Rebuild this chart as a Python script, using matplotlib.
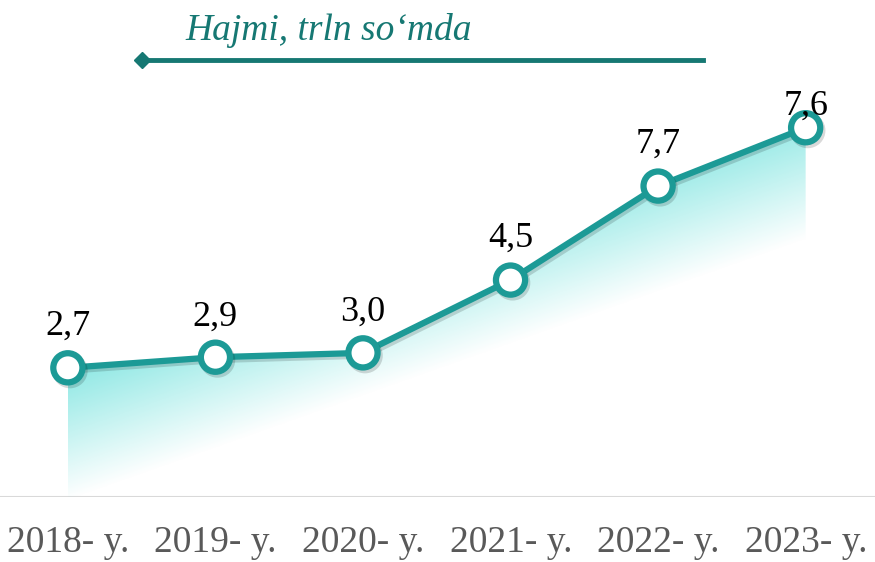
import numpy as np
import matplotlib
matplotlib.use("Agg")
import matplotlib.pyplot as plt
import matplotlib.patheffects as pe
from matplotlib.patches import Polygon
from matplotlib.lines import Line2D

years = ["2018- y.", "2019- y.", "2020- y.", "2021- y.", "2022- y.", "2023- y."]
# heights as drawn in the picture, labels as printed
heights = [2.68, 2.90, 2.99, 4.50, 6.45, 7.66]
labels = ["2,7", "2,9", "3,0", "4,5", "7,7", "7,6"]
title = "Hajmi, trln so\u2018mda"

teal = "#1c9a96"
dark_teal = "#167873"
fill_col = np.array([0.45, 0.89, 0.87])

fig = plt.figure(figsize=(8.75, 5.62), dpi=100)
ax = fig.add_axes([0, 65 / 562, 1, 497 / 562])
ax.set_xlim(-0.46, 5.47)
ax.set_ylim(0, 10.31)
ax.axis("off")

x = np.arange(len(years))
y = np.array(heights)

# gradient fill under the line, fading to the lower right
gx = np.linspace(0, 5, 300)
gy = np.linspace(0, 8, 300)
GX, GY = np.meshgrid(gx, gy)
px = 68 + 147.6 * GX
py = 497 - 48.2 * GY
s = 260 * px + 736 * py
alpha = np.clip((386200 - s) / (386200 - 270000), 0, 1) * 0.97
img = np.zeros(GX.shape + (4,))
img[..., :3] = fill_col
img[..., 3] = alpha
poly = Polygon(np.column_stack([np.r_[x, x[::-1][:1], x[:1]], np.r_[y, 0, 0]]),
               closed=True, facecolor="none", edgecolor="none")
ax.add_patch(poly)
im = ax.imshow(img, extent=[0, 5, 0, 8], origin="lower", aspect="auto", zorder=1)
im.set_clip_path(poly)

ax.plot(x, y, color=teal, lw=4.5, marker="o", ms=21, mfc="white", mec=teal, mew=4.5,
        zorder=3, solid_capstyle="round",
        path_effects=[pe.SimpleLineShadow(offset=(1.5, -2), alpha=0.15, shadow_color="k"),
                      pe.Normal()])

offs = [24, 23, 23, 24, 24, 9.5]
for xi, yi, lab, o in zip(x, y, labels, offs):
    ax.annotate(lab, (xi, yi), xytext=(0, o), textcoords="offset points",
                ha="center", va="baseline", fontsize=26, family="Liberation Serif",
                color="black", zorder=4)

# baseline
ax.add_line(Line2D([-0.46, 5.47], [0, 0], color="#d9d9d9", lw=1.5, zorder=0))

for xi, t in zip(x, years):
    fig.text((68 + 147.6 * xi) / 875, 1 - 543 / 562, t, ha="center", va="center",
             fontsize=27, family="Liberation Serif", color="#595959")

# title with rule
fig.text(329 / 875, 1 - 30 / 562, title, ha="center", va="center", fontsize=27,
         family="Liberation Serif", style="italic", color=dark_teal)
fig.add_artist(Line2D([142 / 875, 703 / 875], [1 - 60 / 562] * 2, color=dark_teal, lw=3.5))
fig.add_artist(Line2D([142 / 875], [1 - 60 / 562], marker="D", ms=8, color=dark_teal, lw=0))

fig.savefig("out.png", dpi=100)
